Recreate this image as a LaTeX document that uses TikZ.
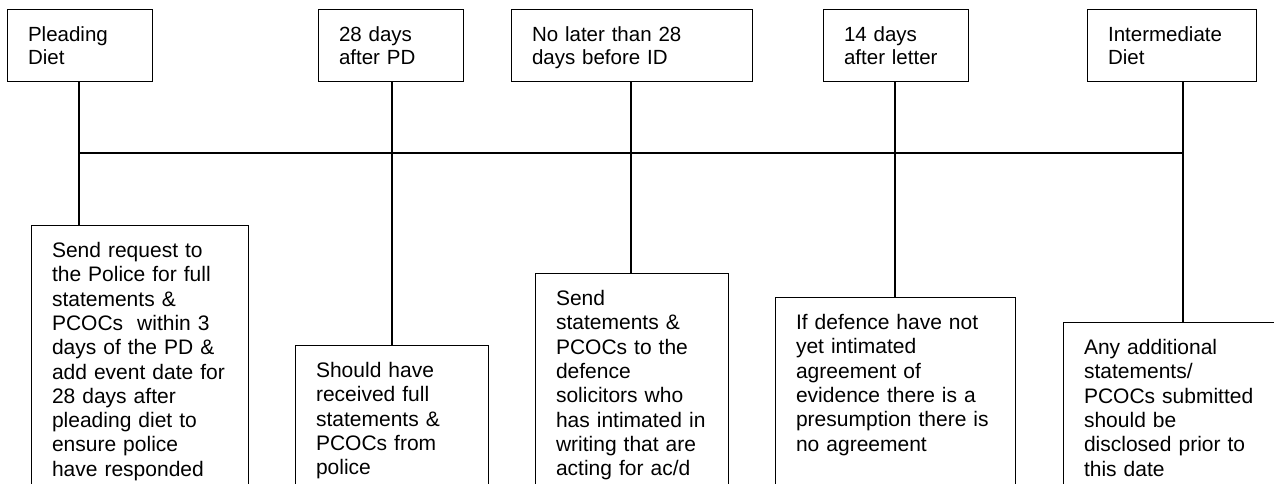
\documentclass[tikz,border=0pt]{standalone}
\usepackage{fontspec}
\setmainfont{Liberation Sans}
\begin{document}
\begin{tikzpicture}[x=1pt,y=-1pt,line width=1.1pt,
  datebox/.style={draw, anchor=north west, inner xsep=20.5pt, inner ysep=0pt, align=left,
    font=\fontsize{20.5}{22.6}\selectfont, text height=32pt, text depth=40pt},
  taskbox/.style={draw, anchor=north west, inner xsep=20.5pt, inner ysep=0pt, align=left,
    font=\fontsize{21}{24.3}\selectfont, text height=32pt, text depth=270pt}]
\useasboundingbox (0,0) rectangle (1274,484);
\clip (0,0) rectangle (1274,484);
% dates along the top
\node[datebox, text width=104pt] (pd) at (7,9) {Pleading\\Diet};
\node[datebox, text width=104pt] (pdplus) at (318,9) {28 days\\after PD};
\node[datebox, text width=200pt] (idminus) at (511,9) {No later than 28\\days before ID};
\node[datebox, text width=104pt] (letter) at (823,9) {14 days\\after letter};
\node[datebox, text width=128pt] (id) at (1087,9) {Intermediate\\Diet};
% points on the time line
\coordinate (j1) at (79,153);
\coordinate (j2) at (392,153);
\coordinate (j3) at (631,153);
\coordinate (j4) at (895,153);
\coordinate (j5) at (1183,153);
% tasks below the line
\node[taskbox, text width=176pt] (request) at (31,225) {Send request to\\the Police for full\\statements \&\\PCOCs\ \ within 3\\days of the PD \&\\add event date for\\28 days after\\pleading diet to\\ensure police\\have responded};
\node[taskbox, text width=152pt] (received) at (295,345) {Should have\\received full\\statements \&\\PCOCs from\\police};
\node[taskbox, text width=152pt] (disclose) at (535,273) {Send\\statements \&\\PCOCs to the\\defence\\solicitors who\\has intimated in\\writing that are\\acting for ac/d};
\node[taskbox, text width=199pt] (presume) at (775,297) {If defence have not\\yet intimated\\agreement of\\evidence there is a\\presumption there is\\no agreement};
\node[taskbox, text width=190pt] (additional) at (1063,322) {Any additional\\statements/\\PCOCs submitted\\should be\\disclosed prior to\\this date};
% connectors
\path[draw] (j1) -- (j5);
\path[draw] (j1 |- pd.south) -- (j1 |- request.north);
\path[draw] (j2 |- pdplus.south) -- (j2 |- received.north);
\path[draw] (j3 |- idminus.south) -- (j3 |- disclose.north);
\path[draw] (j4 |- letter.south) -- (j4 |- presume.north);
\path[draw] (j5 |- id.south) -- (j5 |- additional.north);
\end{tikzpicture}
\end{document}
